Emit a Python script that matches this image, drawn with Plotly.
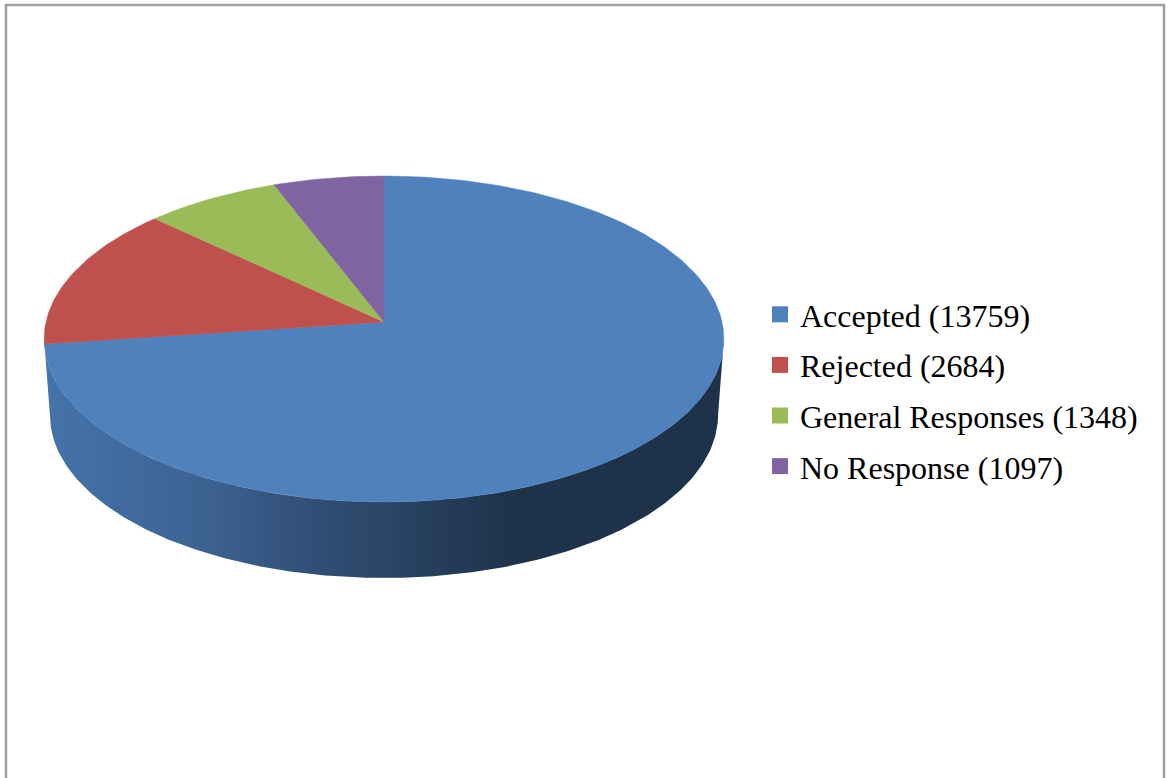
import numpy as np
import plotly.graph_objects as go

categories = ["Accepted", "Rejected", "General Responses", "No Response"]
values = [13759, 2684, 1348, 1097]
colors = ["#4F81BD", "#C0504D", "#9BBB59", "#8064A2"]

W, H = 1171, 778
CX, CY = 384, 322      # apex of the pie, in the pixel-sized data space
A, B, K = 338, 161.2, 0.1043   # projection of the disc (perspective)
DEPTH, X_SHRINK = 76, 0.983


def project(theta, shrink=1.0, drop=0.0):
    u, v = np.sin(theta), np.cos(theta)
    den = 1 + K * v
    return CX + shrink * A * u / den, CY - B * v / den + drop


fig = go.Figure()

# side wall: runs between the two silhouette points of the rim
edge = np.arcsin(K)
th = np.linspace(np.pi / 2 + edge, 3 * np.pi / 2 - edge, 241)
xt, yt = project(th)
xb, yb = project(th, X_SHRINK, DEPTH)
wall_x = np.concatenate([xt, xb[::-1]])
wall_y = np.concatenate([yt, yb[::-1]])
fig.add_trace(go.Scatter(
    x=wall_x, y=wall_y, mode="lines", line=dict(width=0), fill="toself",
    fillgradient=dict(
        type="horizontal",
        colorscale=[
            [0.00, "#4474AB"], [0.12, "#416A9E"], [0.24, "#3D6291"],
            [0.38, "#31507A"], [0.50, "#2B4666"], [0.60, "#243B58"],
            [0.70, "#1E3249"], [1.00, "#1E3249"],
        ],
        start=float(wall_x.min()), stop=float(wall_x.max()),
    ),
    hoverinfo="skip", showlegend=False, legendgroup=categories[0],
))

# top face slices
total = sum(values)
start = 0.0
for name, val, col in zip(categories, values, colors):
    sweep = 2 * np.pi * val / total
    t = np.linspace(start, start + sweep, max(int(val / total * 360), 8) + 1)
    x, y = project(t)
    fig.add_trace(go.Scatter(
        x=np.r_[CX, x, CX], y=np.r_[CY, y, CY], mode="lines",
        line=dict(width=0.5, color=col), fill="toself", fillcolor=col,
        name=f"{name} ({val})", legendgroup=name, showlegend=False,
        hovertemplate=f"{name}: {val}<extra></extra>",
    ))
    start += sweep

# legend entries
for name, val, col in zip(categories, values, colors):
    fig.add_trace(go.Scatter(
        x=[None], y=[None], mode="markers",
        marker=dict(symbol="square", size=16, color=col),
        name=f"{name} ({val})", legendgroup=name,
    ))

fig.update_layout(
    width=W, height=H, autosize=False,
    margin=dict(l=0, r=0, t=0, b=0),
    paper_bgcolor="white", plot_bgcolor="white",
    xaxis=dict(range=[0, W], visible=False, fixedrange=True),
    yaxis=dict(range=[H, 0], visible=False, fixedrange=True),
    legend=dict(
        x=760 / W, y=1 - 287 / H, xanchor="left", yanchor="top",
        font=dict(family="Liberation Serif", size=32, color="#000000"),
        tracegroupgap=6, bgcolor="rgba(0,0,0,0)",
    ),
    shapes=[dict(
        type="rect", xref="paper", yref="paper",
        x0=6 / W, x1=1164 / W, y0=-0.02, y1=1 - 5 / H,
        line=dict(color="#A0A0A0", width=2.5), layer="below",
    )],
)

fig.write_html(
    "out.html",
    config={"displayModeBar": False},
    post_script="document.body.style.margin='0';document.body.style.overflow='hidden';",
)
